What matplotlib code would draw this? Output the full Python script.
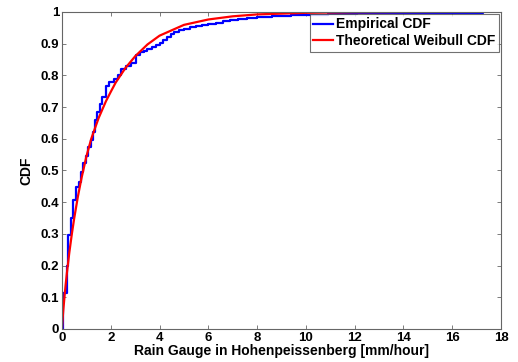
import matplotlib
matplotlib.use("Agg")
import matplotlib.pyplot as plt

plt.rcParams['font.family'] = ['Liberation Sans', 'DejaVu Sans']

# empirical CDF: step positions (mm/hour) and cumulative fraction after each step
ecdf_x = [0.04, 0.04, 0.19, 0.26, 0.37, 0.46, 0.57, 0.69, 0.77, 0.86, 0.97,
          1.06, 1.17, 1.27, 1.34, 1.45, 1.54, 1.65, 1.81, 1.92, 2.15, 2.30,
          2.43, 2.64, 2.84, 3.05, 3.20, 3.35, 3.50, 3.70, 3.85, 4.00, 4.15,
          4.30, 4.45, 4.60, 4.80, 5.00, 5.25, 5.50, 5.75, 6.00, 6.30, 6.60,
          6.90, 7.20, 7.60, 8.00, 8.60, 9.40, 10.00, 10.90, 12.10, 17.25]
ecdf_y = [0.0, 0.113, 0.20, 0.297, 0.35, 0.407, 0.448, 0.464, 0.496, 0.525, 0.546,
          0.575, 0.596, 0.62, 0.66, 0.685, 0.71, 0.733, 0.767, 0.78, 0.787, 0.80,
          0.82, 0.83, 0.84, 0.865, 0.872, 0.876, 0.882, 0.888, 0.895, 0.902, 0.912,
          0.920, 0.930, 0.937, 0.942, 0.947, 0.952, 0.956, 0.960, 0.963, 0.966, 0.970,
          0.974, 0.977, 0.980, 0.983, 0.986, 0.989, 0.991, 0.994, 0.997, 1.0]

# fitted Weibull CDF
weib_x = [0.0, 0.01, 0.03, 0.06, 0.1, 0.15, 0.2, 0.3, 0.4, 0.5, 0.65, 0.8,
          1.0, 1.2, 1.5, 1.8, 2.0, 2.2, 2.6, 3.0, 3.5, 4.0, 5.0, 6.0, 7.0,
          8.0, 10.0, 12.0, 14.0, 17.3]
weib_y = [0.0, 0.014, 0.037, 0.066, 0.100, 0.140, 0.176, 0.241, 0.298, 0.349,
          0.417, 0.476, 0.544, 0.600, 0.665, 0.718, 0.748, 0.777, 0.823, 0.860,
          0.897, 0.925, 0.959, 0.976, 0.986, 0.992, 0.997, 0.999, 0.9996, 0.9999]

xticks = list(range(0, 19, 2))
yticks = [i / 10 for i in range(11)]
ytick_labels = ['0'] + [f"{t:.1f}" for t in yticks[1:-1]] + ['1']

fig = plt.figure(figsize=(5.18, 3.62), dpi=100)
ax = fig.add_axes([0.1197, 0.0912, 0.8475, 0.876])

ax.step(ecdf_x, ecdf_y, where='post', color=(0, 0, 1), lw=1.6, label='Empirical CDF')
ax.plot(weib_x, weib_y, color=(1, 0, 0), lw=1.6, label='Theoretical Weibull CDF')

ax.set_xlim(0, 18)
ax.set_ylim(0, 1)
ax.set_xticks(xticks)
ax.set_xticklabels([str(t) for t in xticks])
ax.set_yticks(yticks)
ax.set_yticklabels(ytick_labels)

for s in ax.spines.values():
    s.set_color('0.4')
    s.set_linewidth(0.8)
ax.tick_params(direction='in', top=True, right=True, length=3, width=0.6,
               color='0.4', labelsize=9.5, pad=2)
for lab in ax.get_xticklabels() + ax.get_yticklabels():
    lab.set_fontweight('bold')

ax.set_xlabel('Rain Gauge in Hohenpeissenberg [mm/hour]', fontsize=10,
              fontweight='bold', labelpad=0)
ax.set_ylabel('CDF', fontsize=10, fontweight='bold', labelpad=5)

leg = ax.legend(loc='upper right', prop={'weight': 'bold', 'size': 10},
                frameon=True, fancybox=False, borderaxespad=0.15,
                handlelength=1.4, handletextpad=0.25, borderpad=0.25,
                labelspacing=0.2)
leg.get_frame().set_edgecolor('0.3')
leg.get_frame().set_linewidth(0.8)

fig.savefig('out.png', dpi=100)
